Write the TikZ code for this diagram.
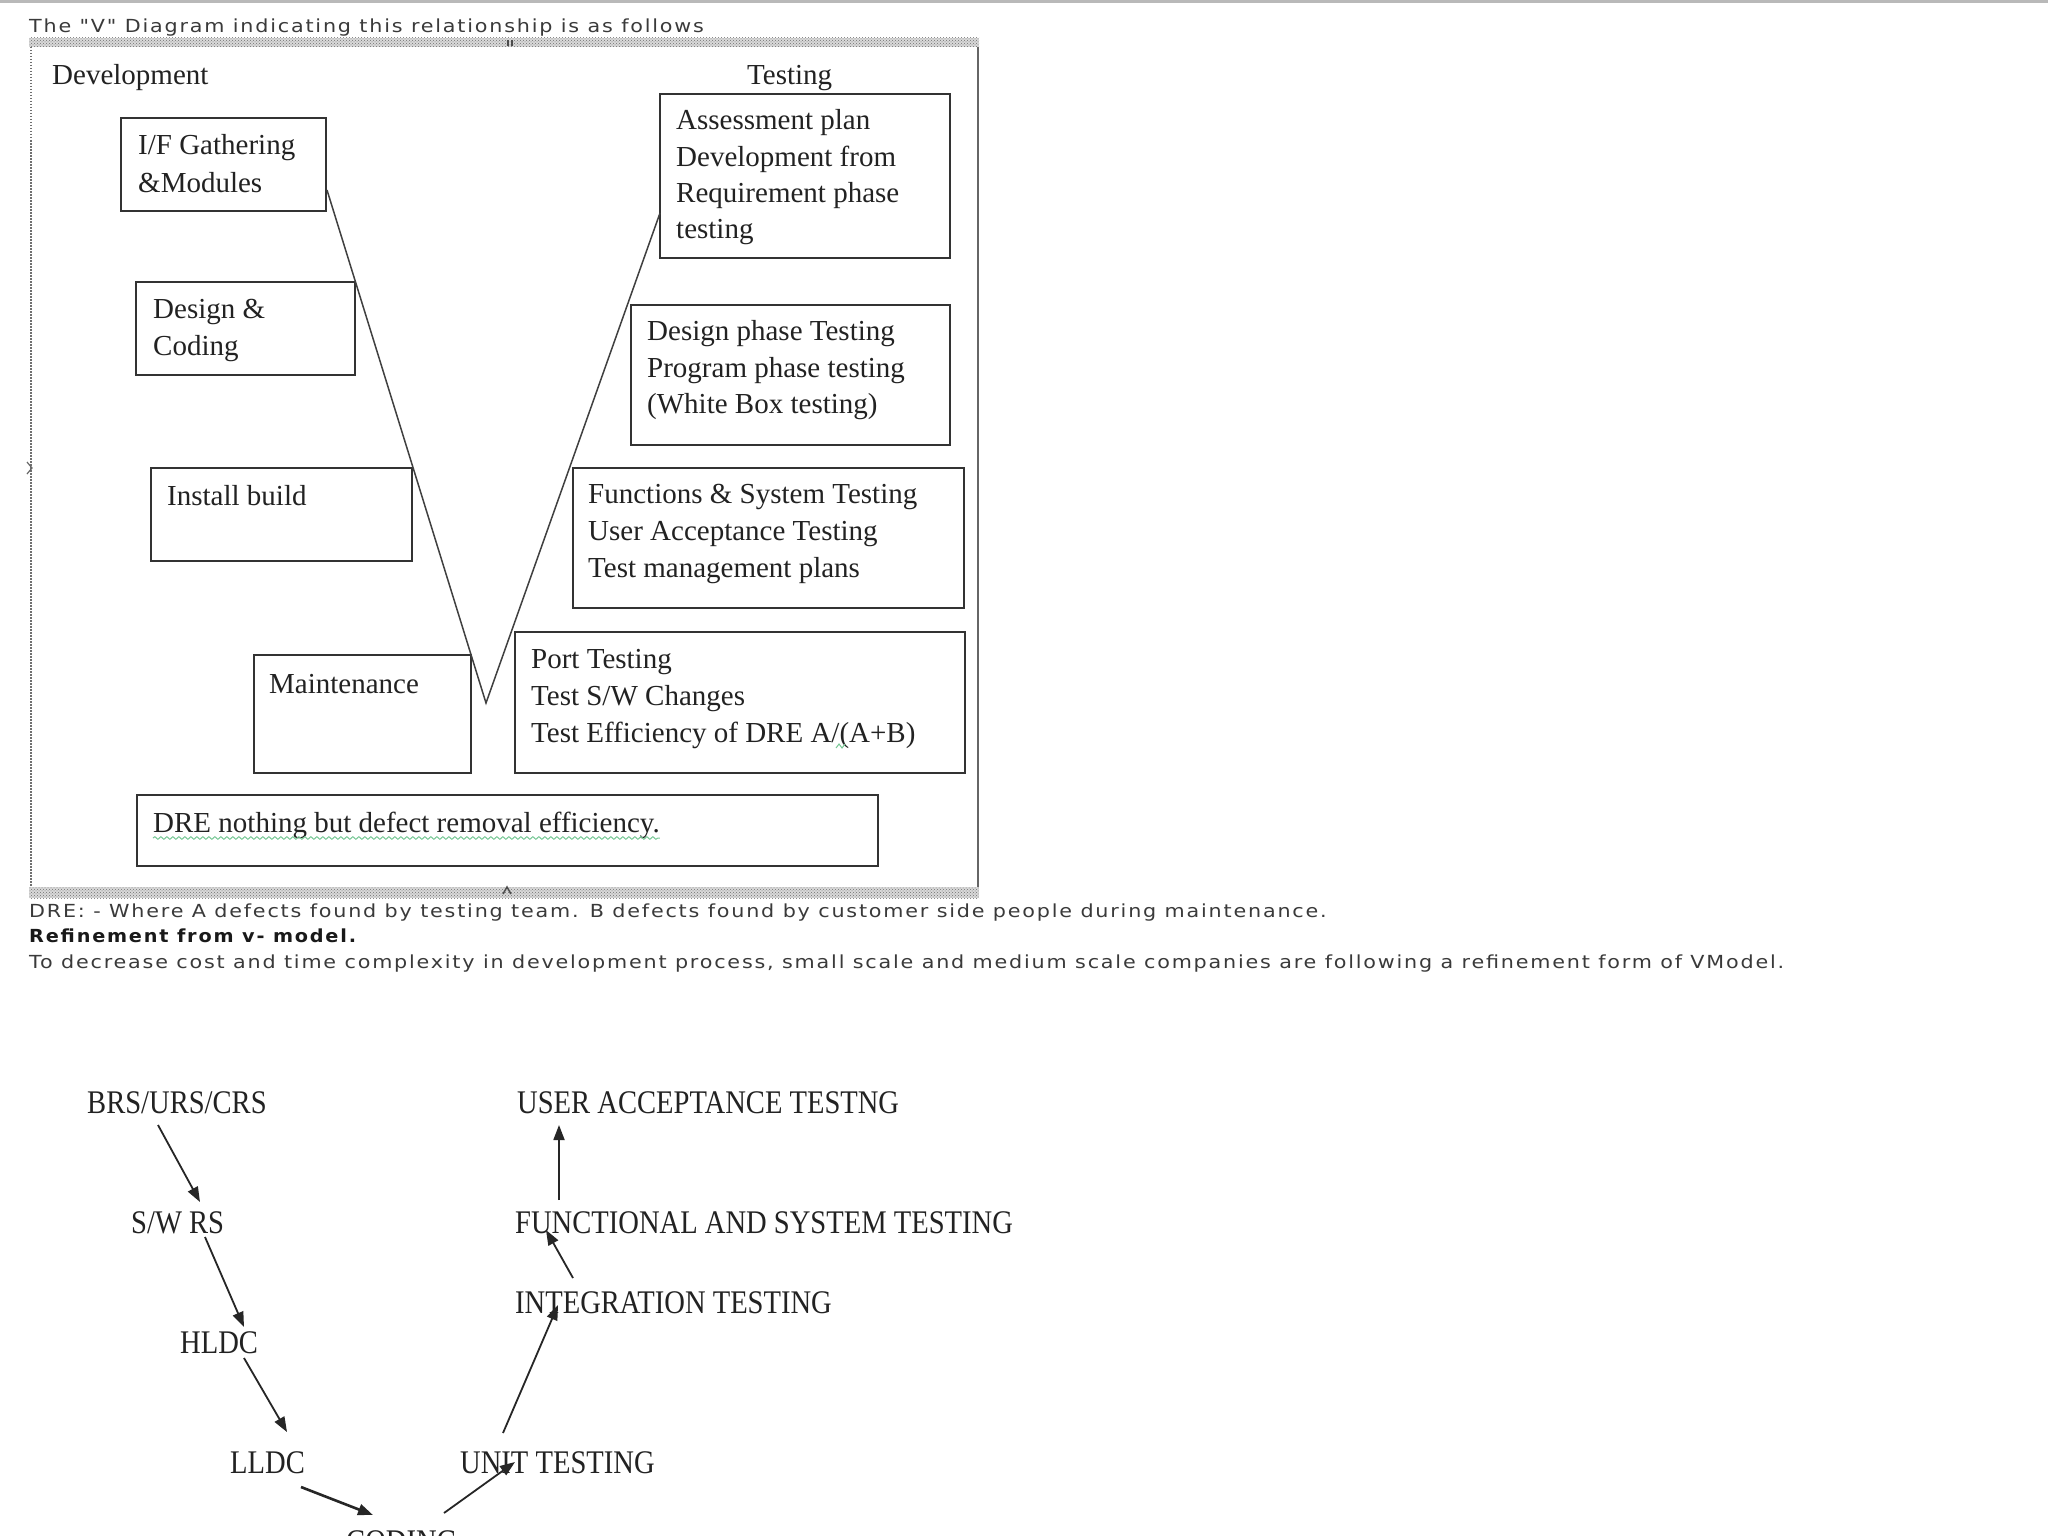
\documentclass[tikz,border=0pt]{standalone}
\usepackage{fontspec}
\setmainfont{Liberation Serif}
\newfontfamily\vfont{Liberation Serif}
\newfontfamily\capfont[FakeStretch=0.866]{Liberation Serif}
\newfontfamily\uifont[FakeStretch=1.15,LetterSpace=10]{DejaVu Sans}
\newfontfamily\uibfont[FakeStretch=1.07,LetterSpace=10]{DejaVu Sans}
\usetikzlibrary{arrows.meta,calc,patterns,decorations.pathmorphing}
\definecolor{inkc}{HTML}{222222}
\definecolor{boxc}{HTML}{333333}
\definecolor{uic}{HTML}{3A3A3A}
\definecolor{spellc}{RGB}{120,200,150}
\definecolor{framec}{HTML}{707070}
\tikzset{
  vbox/.style={draw=boxc, line width=2pt, inner sep=0pt, anchor=north west},
  vtxt/.style={anchor=base west, inner sep=0pt, text=inkc, font=\vfont\fontsize{29}{37}\selectfont},
  ctxt/.style={anchor=base west, inner sep=0pt, text=inkc, font=\capfont\fontsize{33}{40}\selectfont},
  utxt/.style={anchor=base west, inner sep=0pt, text=uic, font=\uifont\fontsize{18}{22}\selectfont},
  vline/.style={draw=black!75, line width=1.5pt},
  larr/.style={draw=black!85, line width=1.8pt, -{Triangle[length=15pt,width=11pt]}},
  band/.style={pattern=crosshatch dots, pattern color=framec},
}
\begin{document}
\begin{tikzpicture}[x=1pt,y=-1pt]
\useasboundingbox (0,0) rectangle (2048,1536);
\fill[white] (0,0) rectangle (2048,1536);
\fill[gray!55] (0,0) rectangle (2048,3);

% header text
\node[utxt] (head) at (29,33) {The "V" Diagram indicating this relationship is as follows};

% outer frame
\fill[gray!30] (29,38) rectangle (979,47);
\fill[band] (29,38) rectangle (979,47);
\fill[gray!30] (29,887) rectangle (979,898);
\fill[band] (29,887) rectangle (979,898);
\draw[framec, line width=2.5pt, dash pattern=on 1.5pt off 1.5pt] (31,47) -- (31,887);
\draw[black!60, line width=2pt] (978,47) -- (978,887);
\draw[black!70, line width=1.5pt] (508,46) -- (508,40) (512,46) -- (512,40);
\draw[black!70, line width=1.5pt] (503,894) -- (507,887) -- (511,894);
\draw[black!60, line width=1.2pt] (27,462) -- (32,468) -- (27,474);

% headings
\node[vtxt] (dev) at (52,85) {Development};
\node[vtxt] (tst) at (747,85) {Testing};

% development boxes
\node[vbox, minimum width=205pt, minimum height=93pt] (ifbox) at (120,117) {};
\node[vbox, minimum width=219pt, minimum height=93pt] (dcbox) at (135,281) {};
\node[vbox, minimum width=261pt, minimum height=93pt] (ibbox) at (150,467) {};
\node[vbox, minimum width=217pt, minimum height=118pt] (mtbox) at (253,654) {};
\node[vbox, minimum width=741pt, minimum height=71pt] (drebox) at (136,794) {};
% testing boxes
\node[vbox, minimum width=290pt, minimum height=164pt] (asbox) at (659,93) {};
\node[vbox, minimum width=319pt, minimum height=140pt] (dpbox) at (630,304) {};
\node[vbox, minimum width=391pt, minimum height=140pt] (fsbox) at (572,467) {};
\node[vbox, minimum width=450pt, minimum height=141pt] (ptbox) at (514,631) {};

% box texts
\node[vtxt] (if1) at ($(ifbox.north west)+(18,38)$) {I/F Gathering};
\node[vtxt] (if2) at ($(if1.base west)+(0,37)$) {\&Modules};
\node[vtxt] (dc1) at ($(dcbox.north west)+(18,37)$) {Design \&};
\node[vtxt] (dc2) at ($(dc1.base west)+(0,37)$) {Coding};
\node[vtxt] (ib1) at ($(ibbox.north west)+(17,38)$) {Install build};
\node[vtxt] (mt1) at ($(mtbox.north west)+(16,39)$) {Maintenance};
\node[vtxt] (dr1) at ($(drebox.north west)+(17,38)$) {DRE nothing but defect removal efficiency.};

\node[vtxt] (as1) at ($(asbox.north west)+(17,37)$) {Assessment plan};
\node[vtxt] (as2) at ($(as1.base west)+(0,36)$) {Development from};
\node[vtxt] (as3) at ($(as2.base west)+(0,36)$) {Requirement phase};
\node[vtxt] (as4) at ($(as3.base west)+(0,36)$) {testing};
\node[vtxt] (dp1) at ($(dpbox.north west)+(17,36)$) {Design phase Testing};
\node[vtxt] (dp2) at ($(dp1.base west)+(0,37)$) {Program phase testing};
\node[vtxt] (dp3) at ($(dp2.base west)+(0,36)$) {(White Box testing)};
\node[vtxt] (fs1) at ($(fsbox.north west)+(16,36)$) {Functions \& System Testing};
\node[vtxt] (fs2) at ($(fs1.base west)+(0,37)$) {User Acceptance Testing};
\node[vtxt] (fs3) at ($(fs2.base west)+(0,37)$) {Test management plans};
\node[vtxt] (pt1) at ($(ptbox.north west)+(17,37)$) {Port Testing};
\node[vtxt] (pt2) at ($(pt1.base west)+(0,37)$) {Test S/W Changes};
\node[vtxt] (pt3) at ($(pt2.base west)+(0,37)$) {Test Efficiency of DRE A/(A+B)};

% spell-check marks
\draw[spellc, line width=1pt, decorate, decoration={snake, amplitude=1.3pt, segment length=6pt}]
  ($(dr1.base west)+(0,6)$) -- ($(dr1.base east)+(0,6)$);
\draw[spellc, line width=1pt] (836,748) -- (839,744) -- (842,748) -- (845,744);

% the V
\coordinate (vtip) at (486,703);
\draw[vline] ($(ifbox.north east)+(0,73)$) -- (vtip) -- ($(asbox.north west)+(1,120)$);

% explanatory text
\node[utxt] (dre) at (29,917) {DRE: - Where A defects found by testing team. B defects found by customer side people during maintenance.};
\node[utxt, font=\uibfont\bfseries\fontsize{18}{22}\selectfont, text=black!90] (ref) at (29,942) {Refinement from v- model.};
\node[utxt] (dec) at (29,968) {To decrease cost and time complexity in development process, small scale and medium scale companies are following a refinement form of VModel.};

% refined V model
\node[ctxt] (brs) at (87,1113) {BRS/URS/CRS};
\node[ctxt] (swrs) at (131,1233) {S/W RS};
\node[ctxt] (hldc) at (180,1353) {HLDC};
\node[ctxt] (lldc) at (230,1473) {LLDC};
\node[ctxt] (cod) at (346,1552) {CODING};
\node[ctxt] (unit) at (460,1473) {UNIT TESTING};
\node[ctxt] (integ) at (515,1313) {INTEGRATION TESTING};
\node[ctxt] (func) at (515,1233) {FUNCTIONAL AND SYSTEM TESTING};
\node[ctxt] (uat) at (517,1113) {USER ACCEPTANCE TESTNG};

\draw[larr] ($(brs.base west)+(71,12)$) -- ($(swrs.base west)+(69,-31)$);
\draw[larr] ($(swrs.base west)+(74,4)$) -- ($(hldc.base west)+(64,-26)$);
\draw[larr] ($(hldc.base west)+(64,5)$) -- ($(lldc.base west)+(57,-41)$);
\draw[larr, line width=2.6pt] ($(lldc.base west)+(71,14)$) -- ($(cod.base west)+(27,-37)$);
\draw[larr] ($(cod.base west)+(98,-39)$) -- ($(unit.base west)+(55,-11)$);
\draw[larr] ($(unit.base west)+(43,-40)$) -- ($(integ.base west)+(43,-8)$);
\draw[larr] ($(integ.base west)+(58,-35)$) -- ($(func.base west)+(31,-3)$);
\draw[larr] ($(func.base west)+(44,-33)$) -- ($(uat.base west)+(42,12)$);
\end{tikzpicture}
\end{document}
